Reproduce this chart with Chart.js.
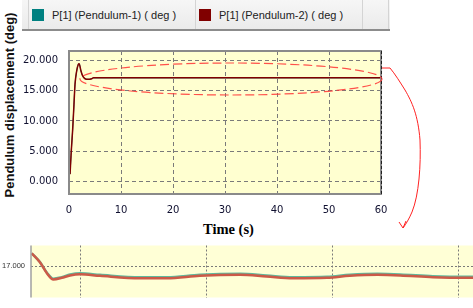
<!DOCTYPE html>
<html>
<head>
<meta charset="utf-8">
<script src="https://cdn.jsdelivr.net/npm/chart.js@4.4.1/dist/chart.umd.min.js"></script>
<style>
  html, body { margin:0; padding:0; background:#fff; width:473px; height:308px; overflow:hidden; }
  body { position:relative; font-family:"Liberation Sans", Arial, sans-serif; }
  #legendBar { position:absolute; left:22px; top:0; width:368px; height:31px;
    background:linear-gradient(#f6f6f6, #ebebeb); border-bottom:2px solid #8c8c8c; box-sizing:border-box; }
  .sep { position:absolute; top:0; width:1px; height:29px; background:#d4d4d4; }
  .item { position:absolute; top:0; height:29px; display:flex; align-items:center; font-size:11px; color:#222; white-space:nowrap; }
  .item span.box { display:inline-block; width:12px; height:12px; margin-right:8px; }
  #mainWrap { position:absolute; left:0; top:34px; }
  #insetWrap { position:absolute; left:0; top:235px; }
  #yTitle { position:absolute; left:9px; top:105px; transform:translate(-50%,-50%) rotate(-90deg);
    font:bold 13px "Liberation Sans", Arial, sans-serif; color:#111; white-space:nowrap; }
  #xTitle { position:absolute; left:188px; top:220px; width:81px; height:21px; background:#fff;
    text-align:center; font:bold 14.5px "Liberation Serif", "Times New Roman", serif; line-height:18px; color:#000; z-index:3; }
  svg#notes { position:absolute; left:0; top:0; z-index:4; pointer-events:none; }
</style>
</head>
<body>
<div id="legendBar"></div>
<div id="yTitle">Pendulum displacement (deg)</div>
<div id="mainWrap"><canvas id="main" width="400" height="190"></canvas></div>
<div id="insetWrap"><canvas id="inset" width="473" height="73"></canvas></div>
<div id="xTitle">Time (s)</div>
<svg id="notes" width="473" height="308">
  <ellipse cx="231" cy="79" rx="151" ry="16" fill="none" stroke="#ff3333" stroke-width="1.2" stroke-dasharray="9,4" opacity="0.85"/>
  <path d="M382,68 L390,68 C395,74 400,82 405,90 C412,102 418,115 420,140 C421,165 419,195 412,212 C409,219 406,224 403,228"
        fill="none" stroke="#ff2222" stroke-width="1"/>
  <path d="M399,222 L403,228 L406,221" fill="none" stroke="#ff2222" stroke-width="1"/>
</svg>
<script>
// legend / series names
const seriesNames = ['P[1] (Pendulum-1) ( deg )', 'P[1] (Pendulum-2) ( deg )'];
const seriesColors = ['#008080', '#800000'];

// main chart data (time in s, displacement in deg)
const timeMain = [0.2, 0.45, 0.7, 0.96, 1.15, 1.48, 1.8, 1.95, 2.3, 2.56, 3.08, 3.7, 4.36, 4.7, 10, 20, 30, 40, 50, 60];
const pendulum1 = [1.2, 5.2, 8.5, 12.8, 16.0, 18.3, 19.4, 19.5, 18.3, 17.6, 17.0, 16.9, 17.0, 17.15, 17.15, 17.15, 17.15, 17.15, 17.15, 17.15];
const pendulum2 = [1.2, 5.2, 8.5, 12.8, 16.0, 18.3, 19.4, 19.5, 18.3, 17.6, 17.0, 16.9, 17.0, 17.15, 17.15, 17.15, 17.15, 17.15, 17.15, 17.15];
const yTicksMain = [0, 5, 10, 15, 20];
const xTicksMain = [0, 10, 20, 30, 40, 50, 60];

// zoomed inset data
const timeInset = [6.16, 6.81, 7.35, 7.87, 8.54, 9.2, 10.0, 11.58, 14.75, 16.9, 19.5, 22.7, 24.8, 26.9, 29.6, 31.4, 33.6, 35.4, 38.0, 40.9, 41.2];
const inset1 = [17.09, 17.029, 16.956, 16.912, 16.923, 16.941, 16.95, 16.939, 16.922, 16.922, 16.939, 16.946, 16.934, 16.922, 16.925, 16.939, 16.946, 16.942, 16.929, 16.925, 16.925];
const inset2 = [17.09, 17.027, 16.952, 16.907, 16.918, 16.935, 16.943, 16.932, 16.915, 16.915, 16.932, 16.939, 16.927, 16.915, 16.918, 16.932, 16.939, 16.935, 16.922, 16.918, 16.918];
const yTicksInset = [17.0];
const xGridInset = [10, 20, 30, 40];

// legend bar
const bar = document.getElementById('legendBar');
[6, 173, 340, 366].forEach(x => {
  const s = document.createElement('div'); s.className = 'sep'; s.style.left = x + 'px'; bar.appendChild(s);
});
[10, 177].forEach((x, i) => {
  const it = document.createElement('div'); it.className = 'item'; it.style.left = x + 'px';
  it.innerHTML = '<span class="box" style="background:' + seriesColors[i] + '"></span>' + seriesNames[i];
  bar.appendChild(it);
});

// fill plot area + frame
const plotBg = {
  id: 'plotBg',
  beforeDraw(chart, args, opts) {
    const { ctx, chartArea: a } = chart;
    ctx.save();
    ctx.fillStyle = opts.color;
    ctx.fillRect(a.left, a.top, a.right - a.left, a.bottom - a.top);
    ctx.restore();
  },
  afterDraw(chart, args, opts) {
    const { ctx, chartArea: a } = chart;
    ctx.save();
    if (opts.leftLine) {
      ctx.strokeStyle = opts.leftLine;
      ctx.lineWidth = 1.5;
      ctx.beginPath(); ctx.moveTo(a.left, a.top); ctx.lineTo(a.left, a.bottom); ctx.stroke();
    }
    if (opts.frame) {
      ctx.strokeStyle = opts.frame;
      ctx.lineWidth = 2;
      ctx.strokeRect(a.left, a.top, a.right - a.left, a.bottom - a.top);
      ctx.strokeStyle = '#222';
      ctx.lineWidth = 1;
      ctx.setLineDash([3, 2]);
      ctx.beginPath(); ctx.moveTo(a.right + 0.5, a.top); ctx.lineTo(a.right + 0.5, a.bottom); ctx.stroke();
    }
    ctx.restore();
  }
};

const tickFont = { family: 'DejaVu Sans', size: 10 };

new Chart(document.getElementById('main').getContext('2d'), {
  type: 'line',
  data: {
    datasets: [
      { label: seriesNames[0], data: timeMain.map((t, i) => ({ x: t, y: pendulum1[i] })), order: 2,
        borderColor: seriesColors[0], borderWidth: 1, pointRadius: 0, cubicInterpolationMode: 'monotone' },
      { label: seriesNames[1], data: timeMain.map((t, i) => ({ x: t, y: pendulum2[i] })), order: 1,
        borderColor: seriesColors[1], borderWidth: 1.5, pointRadius: 0, cubicInterpolationMode: 'monotone' }
    ]
  },
  options: {
    responsive: false,
    animation: false,
    devicePixelRatio: 1,
    layout: { padding: { top: 11, right: 19, left: 0, bottom: 0 } },
    scales: {
      x: {
        type: 'linear', min: 0, max: 60,
        afterBuildTicks: (s) => { s.ticks = xTicksMain.map(v => ({ value: v })); },
        afterFit: (s) => { s.height = 30; },
        ticks: { font: tickFont, color: '#101030', padding: 10, maxRotation: 0 },
        grid: { color: '#7a7a7a', drawTicks: false },
        border: { display: false, dash: [4, 3] }
      },
      y: {
        min: -2.1, max: 21.6,
        afterBuildTicks: (s) => { s.ticks = yTicksMain.map(v => ({ value: v })); },
        afterFit: (s) => { s.width = 69; },
        ticks: { font: tickFont, color: '#101030', padding: 11, callback: (v) => v.toFixed(3) },
        grid: { color: '#7a7a7a', drawTicks: false },
        border: { display: false, dash: [4, 3] }
      }
    },
    plugins: {
      legend: { display: false },
      tooltip: { enabled: false },
      plotBg: { color: '#ffffd0', frame: '#8a8a8a' }
    }
  },
  plugins: [plotBg]
});

new Chart(document.getElementById('inset').getContext('2d'), {
  type: 'line',
  data: {
    datasets: [
      { label: seriesNames[1], data: timeInset.map((t, i) => ({ x: t, y: inset2[i] })), order: 1,
        borderColor: '#cc5a48', borderWidth: 2.5, pointRadius: 0, cubicInterpolationMode: 'monotone' },
      { label: seriesNames[0], data: timeInset.map((t, i) => ({ x: t, y: inset1[i] })), order: 2,
        borderColor: '#5fb89c', borderWidth: 2.5, pointRadius: 0, cubicInterpolationMode: 'monotone' }
    ]
  },
  options: {
    responsive: false,
    animation: false,
    devicePixelRatio: 1,
    layout: { padding: 0 },
    scales: {
      x: {
        type: 'linear', min: 6.1, max: 41.18,
        afterBuildTicks: (s) => { s.ticks = xGridInset.map(v => ({ value: v })); },
        afterFit: (s) => { s.height = 0; },
        ticks: { display: false },
        grid: { color: '#7a7a7a', drawTicks: false, tickLength: 0 },
        border: { display: false, dash: [2, 2] }
      },
      y: {
        min: 16.78, max: 17.145,
        afterBuildTicks: (s) => { s.ticks = yTicksInset.map(v => ({ value: v })); },
        afterFit: (s) => { s.width = 31; },
        ticks: { font: { family: 'Liberation Sans', size: 7.5 }, color: '#333', padding: 6, callback: (v) => v.toFixed(3) },
        grid: { color: '#7a7a7a', drawTicks: false },
        border: { display: false, dash: [2, 2] }
      }
    },
    plugins: {
      legend: { display: false },
      tooltip: { enabled: false },
      plotBg: { color: '#ffffd6', leftLine: '#a0a0a0' }
    }
  },
  plugins: [plotBg]
});
</script>
</body>
</html>
